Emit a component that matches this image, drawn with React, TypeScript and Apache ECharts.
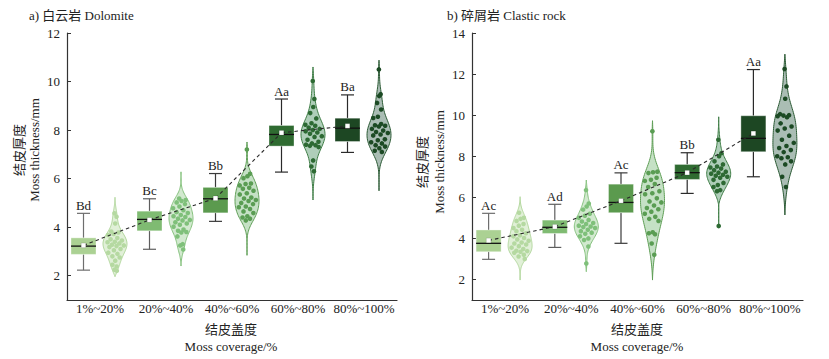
import React, { useEffect, useRef } from 'react';
import * as echarts from 'echarts';

const categories = ['1%~20%', '20%~40%', '40%~60%', '60%~80%', '80%~100%'];

// a) Dolomite
const dolomiteLetters = ['Bd', 'Bc', 'Bb', 'Aa', 'Ba'];
const dolomiteWhiskerLow = [2.23, 3.09, 4.24, 6.27, 7.08];
const dolomiteQ1 = [2.88, 3.85, 4.59, 7.34, 7.53];
const dolomiteMedian = [3.22, 4.32, 5.17, 7.82, 8.08];
const dolomiteQ3 = [3.56, 4.66, 5.64, 8.19, 8.49];
const dolomiteWhiskerHigh = [4.57, 5.17, 6.21, 9.28, 9.45];
const dolomiteMean = [3.25, 4.3, 5.19, 7.89, 8.17];
const dolomiteViolinLow = [1.96, 2.4, 2.84, 5.12, 5.5];
const dolomiteViolinHigh = [5.23, 6.28, 7.51, 10.6, 10.88];
const dolomitePts1 = [4.57, 4.43, 4.15, 3.82, 3.78, 3.72, 3.68, 3.55, 3.5, 3.45, 3.4, 3.38, 3.33, 3.28, 3.25, 3.22, 3.18, 3.1, 3.05, 2.95, 2.9, 2.8, 2.75, 2.62, 2.45, 2.38, 2.25, 2.2];
const dolomitePts2 = [5.18, 5.12, 5.08, 5.02, 4.95, 4.85, 4.78, 4.7, 4.62, 4.58, 4.5, 4.45, 4.42, 4.35, 4.3, 4.28, 4.2, 4.15, 4.1, 4.02, 3.9, 3.85, 3.8, 3.78, 3.62, 3.3, 3.25, 3.08];
const dolomitePts3 = [7.2, 6.2, 6.1, 6.02, 5.8, 5.78, 5.72, 5.62, 5.58, 5.5, 5.4, 5.35, 5.22, 5.18, 5.12, 5.08, 5.0, 4.95, 4.85, 4.82, 4.75, 4.65, 4.58, 4.45, 4.4, 4.35, 4.28];
const dolomitePts4 = [10.02, 9.28, 8.95, 8.7, 8.48, 8.28, 8.22, 8.18, 8.1, 8.05, 8.0, 7.95, 7.9, 7.85, 7.75, 7.72, 7.6, 7.52, 7.45, 7.4, 7.38, 7.35, 7.3, 6.75, 6.5, 6.3];
const dolomitePts5 = [10.5, 9.48, 9.4, 9.12, 8.85, 8.55, 8.5, 8.25, 8.2, 8.18, 8.15, 8.05, 7.98, 7.92, 7.88, 7.82, 7.78, 7.62, 7.58, 7.5, 7.45, 7.38, 7.32, 7.25, 7.15, 7.1];

// b) Clastic rock
const clasticLetters = ['Ac', 'Ad', 'Ac', 'Bb', 'Aa'];
const clasticWhiskerLow = [2.98, 3.56, 3.76, 6.19, 7.0];
const clasticQ1 = [3.35, 4.24, 5.25, 6.87, 8.22];
const clasticMedian = [3.76, 4.54, 5.75, 7.2, 8.87];
const clasticQ3 = [4.41, 4.89, 6.64, 7.6, 9.97];
const clasticWhiskerHigh = [5.22, 5.66, 7.19, 8.17, 12.22];
const clasticMean = [3.9, 4.57, 5.83, 7.2, 9.11];
const clasticViolinLow = [1.97, 2.38, 1.97, 4.57, 5.14];
const clasticViolinHigh = [6.03, 6.84, 9.73, 9.92, 12.97];
const clasticPts1 = [5.25, 5.0, 4.95, 4.85, 4.7, 4.62, 4.5, 4.42, 4.35, 4.25, 4.15, 4.1, 4.02, 3.95, 3.88, 3.8, 3.75, 3.7, 3.62, 3.55, 3.48, 3.4, 3.38, 3.35, 3.3, 3.2, 3.12, 3.0];
const clasticPts2 = [6.35, 5.7, 5.55, 5.4, 5.2, 5.1, 5.0, 4.9, 4.82, 4.75, 4.7, 4.62, 4.58, 4.55, 4.5, 4.42, 4.35, 4.28, 4.22, 4.1, 4.0, 3.92, 3.6, 2.78];
const clasticPts3 = [9.22, 7.25, 7.22, 7.18, 6.95, 6.85, 6.8, 6.65, 6.5, 6.3, 6.2, 6.15, 5.95, 5.8, 5.75, 5.6, 5.48, 5.42, 5.3, 5.2, 5.05, 4.95, 4.85, 4.3, 4.25, 4.2, 3.75, 3.2];
const clasticPts4 = [8.8, 8.15, 8.0, 7.75, 7.6, 7.5, 7.45, 7.4, 7.32, 7.25, 7.2, 7.15, 7.1, 7.05, 7.0, 6.95, 6.85, 6.7, 6.6, 6.5, 6.35, 6.3, 4.6];
const clasticPts5 = [12.25, 11.4, 10.8, 10.05, 10.0, 9.98, 9.95, 9.9, 9.6, 9.45, 9.35, 9.25, 9.0, 8.8, 8.65, 8.5, 8.4, 8.3, 8.2, 8.0, 7.95, 7.9, 7.75, 7.6, 7.0, 6.5];

const dolomiteTicks = [2, 4, 6, 8, 10, 12];
const clasticTicks = [2, 4, 6, 8, 10, 12, 14];

const boxColors = ['#abd193', '#7fbb72', '#5b9a4e', '#2f6b31', '#1d4723'];
const whiskerColors = ['#6e6e6e', '#5e5e5e', '#3a3a3a', '#2a2a2a', '#2a2a2a'];
const violinFill = ['rgba(200,228,184,0.55)', 'rgba(165,212,160,0.5)', 'rgba(140,196,140,0.5)', 'rgba(110,165,128,0.55)', 'rgba(100,135,118,0.55)'];
const violinStroke = ['#b3d89e', '#85c27d', '#5e9e55', '#3e7d45', '#2b5a34'];
const pointColors = ['#b5d9a1', '#7fc07a', '#5a9d53', '#2d6a33', '#1c4a24'];

const FONT = 'Liberation Serif, Noto Sans CJK SC, serif';
const BOX_OFF = -16.5;
const VIO_OFF = 15;
const HALF_W = 12;

function makeKde(pts: number[]) {
  const n = pts.length;
  const m = pts.reduce((s, x) => s + x, 0) / n;
  const sd = Math.sqrt(pts.reduce((s, x) => s + (x - m) * (x - m), 0) / (n - 1));
  const bw = sd * Math.pow(n, -0.2);
  return (v: number) => pts.reduce((s, x) => s + Math.exp(-0.5 * ((v - x) / bw) ** 2), 0);
}

function violinSeries(xIdx: number, pts: number[][], lows: number[], highs: number[]) {
  return {
    type: 'custom',
    xAxisIndex: xIdx,
    yAxisIndex: xIdx,
    data: categories.map((_, i) => [i, lows[i], highs[i]]),
    encode: { x: 0, y: [1, 2] },
    z: 2,
    renderItem: (params: any, api: any) => {
      const i = params.dataIndex;
      const p = pts[i];
      const kde = makeKde(p);
      const lo = lows[i];
      const hi = highs[i];
      const N = 80;
      const d0 = kde(lo);
      const d1 = kde(hi);
      const dens = (v: number) => {
        const t = (v - lo) / (hi - lo);
        return Math.max(0, kde(v) - (d0 + (d1 - d0) * t));
      };
      const vals: number[] = [];
      const ds: number[] = [];
      for (let k = 0; k <= N; k++) {
        const v = lo + ((hi - lo) * k) / N;
        vals.push(v);
        ds.push(dens(v));
      }
      const maxD = Math.max(...ds);
      const cx = api.coord([i, 0])[0] + VIO_OFF;
      const right: number[][] = [];
      const left: number[][] = [];
      for (let k = 0; k <= N; k++) {
        const y = api.coord([i, vals[k]])[1];
        const w = (ds[k] / maxD) * HALF_W;
        right.push([cx + w, y]);
        left.push([cx - w, y]);
      }
      const poly = right.concat(left.reverse());
      const children: any[] = [
        {
          type: 'polygon',
          shape: { points: poly },
          style: { fill: violinFill[i], stroke: violinStroke[i], lineWidth: 1 },
        },
      ];
      p.forEach((v, k) => {
        const y = api.coord([i, v])[1];
        const w = (dens(v) / maxD) * HALF_W * 0.8;
        const frac = (((k * 0.618034 + 0.31) % 1) * 2 - 1);
        children.push({
          type: 'circle',
          shape: { cx: cx + frac * w, cy: y, r: 2.3 },
          style: { fill: pointColors[i] },
        });
      });
      return { type: 'group', children };
    },
  };
}

function boxSeries(xIdx: number, lo: number[], q1: number[], med: number[], q3: number[], hi: number[], letters: string[]) {
  return {
    type: 'custom',
    xAxisIndex: xIdx,
    yAxisIndex: xIdx,
    data: categories.map((_, i) => [i, lo[i], q1[i], med[i], q3[i], hi[i]]),
    encode: { x: 0, y: [1, 2, 3, 4, 5] },
    z: 3,
    renderItem: (params: any, api: any) => {
      const i = params.dataIndex;
      const x = api.coord([i, 0])[0] + BOX_OFF;
      const yLo = api.coord([i, api.value(1)])[1];
      const yQ1 = api.coord([i, api.value(2)])[1];
      const yMed = api.coord([i, api.value(3)])[1];
      const yQ3 = api.coord([i, api.value(4)])[1];
      const yHi = api.coord([i, api.value(5)])[1];
      const bw = 12.5;
      const cw = 6.5;
      const wc = whiskerColors[i];
      const ls = { stroke: wc, lineWidth: 1.2 };
      return {
        type: 'group',
        children: [
          { type: 'line', shape: { x1: x, y1: yHi, x2: x, y2: yQ3 }, style: ls },
          { type: 'line', shape: { x1: x, y1: yQ1, x2: x, y2: yLo }, style: ls },
          { type: 'line', shape: { x1: x - cw, y1: yHi, x2: x + cw, y2: yHi }, style: ls },
          { type: 'line', shape: { x1: x - cw, y1: yLo, x2: x + cw, y2: yLo }, style: ls },
          { type: 'rect', shape: { x: x - bw, y: yQ3, width: bw * 2, height: yQ1 - yQ3 }, style: { fill: boxColors[i], stroke: 'rgba(255,255,255,0.35)', lineWidth: 1 } },
          { type: 'line', shape: { x1: x - bw, y1: yMed, x2: x + bw, y2: yMed }, style: { stroke: '#111', lineWidth: 1.3 } },
          {
            type: 'text',
            x: x,
            y: yHi - 1.5,
            style: {
              text: letters[i],
              fontSize: 13,
              fontFamily: FONT,
              fill: '#222',
              textAlign: 'center',
              textVerticalAlign: 'bottom',
              align: 'center',
              verticalAlign: 'bottom',
            },
          },
        ],
      };
    },
  };
}

function meanSeries(xIdx: number, means: number[]) {
  return {
    type: 'custom',
    xAxisIndex: xIdx,
    yAxisIndex: xIdx,
    data: categories.map((_, i) => [i, means[i], i < means.length - 1 ? means[i + 1] : means[i]]),
    encode: { x: 0, y: [1] },
    z: 5,
    renderItem: (params: any, api: any) => {
      const i = params.dataIndex;
      const p0 = api.coord([i, api.value(1)]);
      const x0 = p0[0] + BOX_OFF;
      const children: any[] = [];
      if (i < categories.length - 1) {
        const p1 = api.coord([i + 1, api.value(2)]);
        children.push({
          type: 'line',
          shape: { x1: x0, y1: p0[1], x2: p1[0] + BOX_OFF, y2: p1[1] },
          style: { stroke: '#2a2a2a', lineWidth: 1.1, lineDash: [3.5, 3] },
        });
      }
      children.push({
        type: 'rect',
        shape: { x: x0 - 2.3, y: p0[1] - 2.3, width: 4.6, height: 4.6 },
        style: { fill: '#ffffff', stroke: 'rgba(0,0,0,0.25)', lineWidth: 0.5 },
      });
      return { type: 'group', children };
    },
  };
}

function xAxis(gridIndex: number) {
  return {
    type: 'category',
    gridIndex,
    data: categories,
    boundaryGap: true,
    axisLine: { lineStyle: { color: '#333', width: 1.2 } },
    axisTick: { alignWithLabel: true, inside: true, length: 4, interval: 0, lineStyle: { color: '#333' } },
    axisLabel: { fontSize: 13, fontFamily: FONT, color: '#222', margin: 2, interval: 0, hideOverlap: false },
    splitLine: { show: false },
  };
}

function yAxis(gridIndex: number, max: number, ticks: number[]) {
  return {
    type: 'value',
    gridIndex,
    min: 1,
    max,
    axisLine: { show: true, lineStyle: { color: '#333', width: 1.2 } },
    axisTick: { show: true, inside: true, length: 4, customValues: ticks, lineStyle: { color: '#333' } },
    axisLabel: { fontSize: 13, fontFamily: FONT, color: '#222', margin: 7, customValues: ticks },
    splitLine: { show: false },
  };
}

function txt(text: string, x: number, y: number, rotation = 0, align = 'center') {
  return {
    type: 'text',
    x,
    y,
    rotation,
    style: {
      text,
      fontSize: 13,
      fontFamily: FONT,
      fill: '#222',
      textAlign: align,
      textVerticalAlign: 'middle',
      align,
      verticalAlign: 'middle',
    },
  };
}

export default function App() {
  const ref = useRef<HTMLDivElement>(null);
  useEffect(() => {
    if (!ref.current) return;
    const chart = echarts.init(ref.current, undefined, { renderer: 'svg' });
    const dPts = [dolomitePts1, dolomitePts2, dolomitePts3, dolomitePts4, dolomitePts5];
    const cPts = [clasticPts1, clasticPts2, clasticPts3, clasticPts4, clasticPts5];
    chart.setOption({
      animation: false,
      backgroundColor: '#ffffff',
      grid: [
        { left: 67, top: 33, width: 330, height: 267 },
        { left: 472, top: 33, width: 331, height: 267 },
      ],
      xAxis: [xAxis(0), xAxis(1)],
      yAxis: [yAxis(0, 12, dolomiteTicks), yAxis(1, 14, clasticTicks)],
      graphic: [
        txt('a) 白云岩 Dolomite', 29, 15, 0, 'left'),
        txt('b) 碎屑岩 Clastic rock', 447, 15, 0, 'left'),
        txt('结皮厚度', 19, 150, Math.PI / 2),
        txt('Moss thickness/mm', 34, 150, Math.PI / 2),
        txt('结皮厚度', 422, 162, Math.PI / 2),
        txt('Moss thickness/mm', 439, 162, Math.PI / 2),
        txt('结皮盖度', 231, 329),
        txt('Moss coverage/%', 231, 346),
        txt('结皮盖度', 637, 329),
        txt('Moss coverage/%', 637, 346),
      ],
      series: [
        violinSeries(0, dPts, dolomiteViolinLow, dolomiteViolinHigh),
        boxSeries(0, dolomiteWhiskerLow, dolomiteQ1, dolomiteMedian, dolomiteQ3, dolomiteWhiskerHigh, dolomiteLetters),
        meanSeries(0, dolomiteMean),
        violinSeries(1, cPts, clasticViolinLow, clasticViolinHigh),
        boxSeries(1, clasticWhiskerLow, clasticQ1, clasticMedian, clasticQ3, clasticWhiskerHigh, clasticLetters),
        meanSeries(1, clasticMean),
      ],
    });
    return () => chart.dispose();
  }, []);
  return <div ref={ref} style={{ position: 'fixed', left: 0, top: 0, width: 829, height: 359, background: '#fff' }} />;
}
